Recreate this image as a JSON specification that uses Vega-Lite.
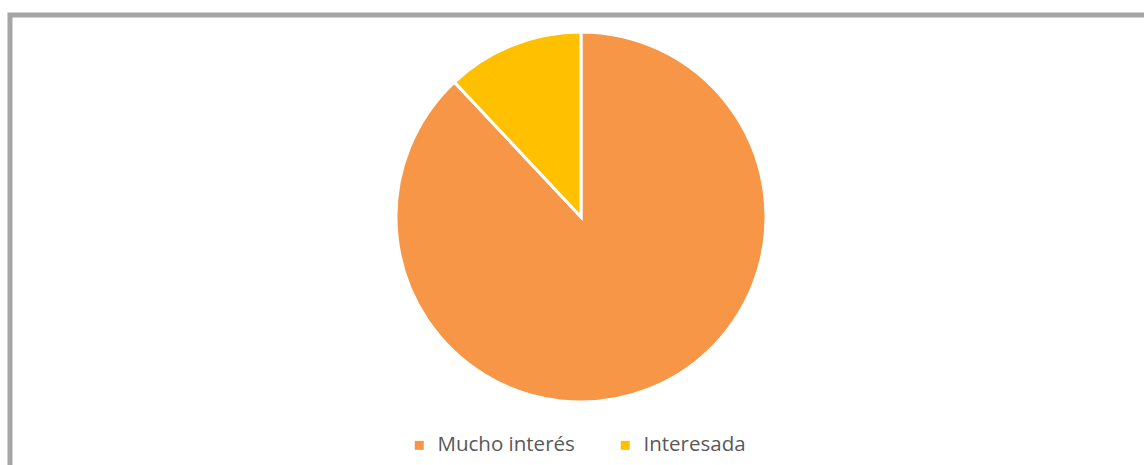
{
  "$schema": "https://vega.github.io/schema/vega-lite/v6.json",
  "autosize": {"type": "none"},
  "width": 1140,
  "height": 460,
  "padding": {"left": 10, "top": 15, "right": 0, "bottom": 0},
  "background": "white",
  "view": {"stroke": "#a6a6a6", "strokeWidth": 5, "fill": "white"},
  "config": {
    "view": {"stroke": "#a6a6a6", "strokeWidth": 5},
    "font": "Open Sans"
  },
  "data": {
    "values": [
      {"categoria": "Mucho interés", "valor": 88, "orden": 1},
      {"categoria": "Interesada", "valor": 12, "orden": 2}
    ]
  },
  "mark": {"type": "arc", "outerRadius": 185, "x": 571, "y": 202, "stroke": "white", "strokeWidth": 3},
  "encoding": {
    "theta": {"field": "valor", "type": "quantitative", "stack": true},
    "order": {"field": "orden", "type": "quantitative"},
    "color": {
      "field": "categoria",
      "type": "nominal",
      "sort": ["Mucho interés", "Interesada"],
      "scale": {"domain": ["Mucho interés", "Interesada"], "range": ["#F79646", "#FFC000"]},
      "legend": {
        "title": null,
        "orient": "none",
        "direction": "horizontal",
        "legendX": 399,
        "legendY": 420,
        "symbolType": "square",
        "symbolSize": 81,
        "symbolStrokeWidth": 0,
        "labelFontSize": 20.5,
        "labelColor": "#595959",
        "labelFont": "Open Sans",
        "labelOffset": 8,
        "columnPadding": 40
      }
    }
  }
}
